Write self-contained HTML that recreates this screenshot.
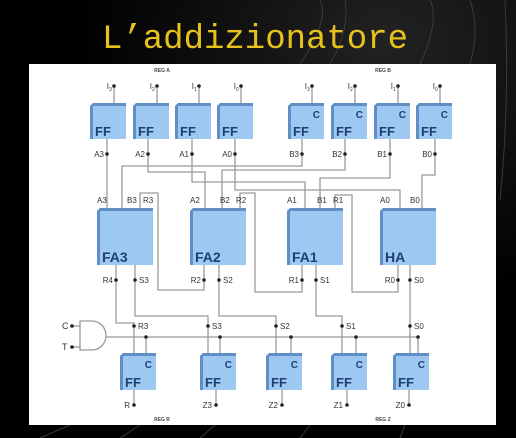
<!DOCTYPE html>
<html><head><meta charset="utf-8"><style>
html,body{margin:0;padding:0;background:#000;width:516px;height:438px;overflow:hidden}
svg{display:block}
text{font-family:"Liberation Sans",sans-serif}
</style></head><body>
<svg width="516" height="438" viewBox="0 0 516 438">
<defs>
<radialGradient id="bg" cx="0.75" cy="0.1" r="0.6"><stop offset="0" stop-color="#222"/><stop offset="1" stop-color="#000"/></radialGradient>
</defs>
<rect width="516" height="438" fill="url(#bg)"/>
<g stroke="#3a3a3a" stroke-width="1" fill="none">
<path d="M300 64 Q330 20 320 0"/><path d="M330 64 Q350 30 345 0"/><path d="M420 64 Q440 20 430 0"/><path d="M470 64 Q480 30 470 0"/><path d="M500 200 Q510 100 505 0"/>
<path d="M40 438 L70 425"/><path d="M120 438 L140 425"/><path d="M200 438 L215 425"/><path d="M300 438 L310 425"/><path d="M400 438 L405 425"/>
</g>
<text x="255" y="48" text-anchor="middle" font-family="Liberation Mono,monospace" font-size="34" fill="#e8c21c" style="font-family:'Liberation Mono',monospace">L’addizionatore</text>
<rect x="29" y="64" width="467" height="361" fill="#fff"/>
<g id="diagram"></g>
</svg>
<script>
const NS='http://www.w3.org/2000/svg';
const g=document.getElementById('diagram');
function el(t,a,p){const e=document.createElementNS(NS,t);for(const k in a)e.setAttribute(k,a[k]);(p||g).appendChild(e);return e;}
function txt(x,y,s,sz,fill,anchor,bold){const t=el('text',{x:x,y:y,'font-size':sz,fill:fill,'text-anchor':anchor||'start','font-weight':bold?'bold':'normal'});t.textContent=s;return t;}
function wire(pts){const w=el('polyline',{points:pts.map(p=>p.join(',')).join(' '),fill:'none',stroke:'#9a9a9a','stroke-width':1.3});}
function dot(x,y){const d=el('circle',{cx:x,cy:y,r:1.8,fill:'#222'});}
function box(x,y,w,h,label,c,name,lsz){
  const b=el('g',{});
  el('polygon',{points:`${x},${y+3} ${x+3},${y} ${x+w},${y} ${x+w},${y+h-3} ${x+w-3},${y+h} ${x},${y+h}`,fill:'#5f8fc4'},b);
  el('rect',{x:x+3,y:y+3,width:w-3,height:h-3,fill:'#9cc8f2'},b);
  const t=el('text',{x:x+5,y:y+h-3,'font-size':lsz,'font-weight':'bold',fill:'#1d3f72'},b);t.textContent=label;
  if(c){const ct=el('text',{x:x+w-4,y:y+15,'font-size':10,'font-weight':'bold',fill:'#1d3f72','text-anchor':'end'},b);ct.textContent='C';}
}
// wires first
const topX=[90,133,175,217,288,331,374,416];
// top inputs
topX.forEach(x=>{wire([[x+24,86],[x+24,103]]);});
// A wires
wire([[107,139],[107,208]]);
wire([[148,139],[148,172],[205,172],[205,208]]);
wire([[192,139],[192,182],[305,182],[305,208]]);
wire([[235,139],[235,190],[400,190],[400,208]]);
// B wires
wire([[302,139],[302,166],[122,166],[122,208]]);
wire([[345,139],[345,170],[222,170],[222,208]]);
wire([[390,139],[390,178],[320,178],[320,208]]);
wire([[435,139],[435,175],[422,175],[422,208]]);
// carry wires
wire([[140,208],[140,193],[158,193],[158,290],[204,290],[204,265]]);
wire([[240,208],[240,193],[255,193],[255,292],[302,292],[302,265]]);
wire([[335,208],[335,195],[352,195],[352,292],[398,292],[398,265]]);
// outputs
wire([[116,265],[116,323],[134,323],[134,353]]);
wire([[135,265],[135,316],[208,316],[208,353]]);
wire([[219,265],[219,316],[276,316],[276,353]]);
wire([[316,265],[316,316],[342,316],[342,353]]);
wire([[410,265],[410,353]]);
// clock line
wire([[104,337],[418,337]]);
[146,220,291,356,418].forEach(x=>{wire([[x,337],[x,353]]);dot(x,337);});
wire([[70,326],[80,326]]);wire([[70,347],[80,347]]);
// bottom outputs
[134,216,282,347,409].forEach(x=>{wire([[x,390],[x,405]]);dot(x,405);});
// boxes
topX.forEach((x,i)=>box(x,103,36,36,'FF',i>=4,'flip-flop-'+(i<4?'a'+(3-i):'b'+(7-i)),13));
[[97,'FA3'],[190,'FA2'],[287,'FA1'],[380,'HA']].forEach(([x,l])=>box(x,208,56,57,l,false,'adder-'+l.toLowerCase(),14));
[120,200,266,331,393].forEach((x,i)=>box(x,353,36,37,'FF',true,'flip-flop-out-'+i,13));
// AND gate
const ag=el('path',{d:'M80 321 L92 321 A14 14.5 0 0 1 92 350 L80 350 Z',fill:'#fff',stroke:'#999','stroke-width':1.3});

// dots and labels
const sm=8,lc='#333';
['I3','I2','I1','I0','I3','I2','I1','I0'].forEach((s,i)=>{dot(topX[i]+24,86);txt(topX[i]+19,89,s[0],sm,lc,'end');txt(topX[i]+19,91,s[1],5,lc);});
['A3','A2','A1','A0','B3','B2','B1','B0'].forEach((s,i)=>{const x=[107,148,192,235,302,345,390,435][i];dot(x,154);txt(x-3,157,s,sm,lc,'end');});
txt(162,72,'REG A',5,'#444','middle',true);txt(383,72,'REG B',5,'#444','middle',true);
[[97,'A3','B3','R3'],[190,'A2','B2','R2'],[287,'A1','B1','R1'],[380,'A0','B0',null]].forEach(([x,a,b,r])=>{txt(x,203,a,sm,lc);txt(x+30,203,b,sm,lc);if(r)txt(x+46,203,r,sm,lc);});
[[116,135,'R4','S3'],[204,219,'R2','S2'],[302,316,'R1','S1'],[398,410,'R0','S0']].forEach(([rx,sx,r,s])=>{dot(rx,280);dot(sx,280);txt(rx-3,283,r,sm,lc,'end');txt(sx+4,283,s,sm,lc);});
[[134,'R3'],[208,'S3'],[276,'S2'],[342,'S1'],[410,'S0']].forEach(([x,s])=>{dot(x,326);txt(x+4,329,s,sm,lc);});
dot(72,326);dot(72,347);txt(62,329,'C',9,lc);txt(62,350,'T',9,lc);
[[134,'R'],[216,'Z3'],[282,'Z2'],[347,'Z1'],[409,'Z0']].forEach(([x,s])=>txt(x-4,408,s,sm,lc,'end'));
txt(162,421,'REG R',5,'#444','middle',true);txt(383,421,'REG Z',5,'#444','middle',true);
</script>
</body></html>
